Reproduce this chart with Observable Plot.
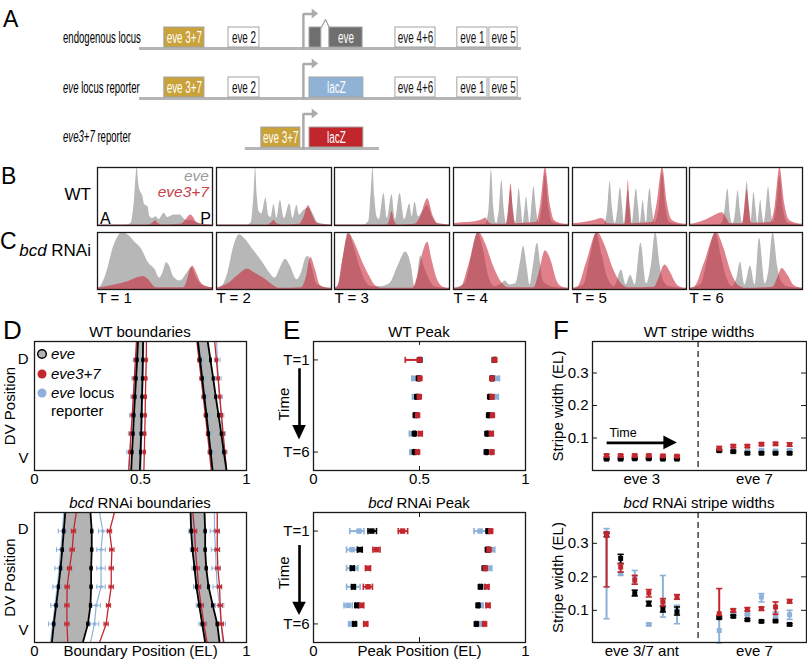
<!DOCTYPE html>
<html><head><meta charset="utf-8">
<script src="https://cdn.jsdelivr.net/npm/d3@7"></script>
<script src="https://cdn.jsdelivr.net/npm/@observablehq/plot@0.6"></script>
<style>
body{margin:0;background:#fff;}
#fig{position:relative;width:807px;height:662px;overflow:hidden;background:#fff;}
</style></head>
<body><div id="fig"></div>
<script>
// ================= DATA =================
// ---- Panel A: locus diagram (positions in locus units 0..100) ----
const aLineStart = [0, 0, 27.7];
const aLineEnd   = [100, 100, 62.8];
const aBoxRow   = [0,0,0,0,0,0,0, 1,1,1,1,1,1, 2,2];
const aBoxLabel = ["eve 3+7","eve 2","","eve","eve 4+6","eve 1","eve 5", "eve 3+7","eve 2","lacZ","eve 4+6","eve 1","eve 5", "eve 3+7","lacZ"];
const aBoxStart = [6.5,23.3,44.5,49.7,67.0,83.2,91.6, 6.5,23.3,44.5,67.0,83.2,91.6, 31.9,44.5];
const aBoxEnd   = [17.0,31.4,47.6,58.4,77.5,91.1,99.0, 17.0,31.4,58.6,77.5,91.1,99.0, 42.1,58.6];
const aBoxKind  = ["enh37","enh","gene","gene","enh","enh","enh", "enh37","enh","lacZblue","enh","enh","enh", "enh37","lacZred"];
const aTSS = 42.9, aArrowBase = 45.2, aArrowTip = 46.9, aIntron = [47.6, 48.7, 49.7];

// ---- Panels B/C: AP expression profiles, knots [AP position, normalized level] ----
const timeLabels = ["T = 1","T = 2","T = 3","T = 4","T = 5","T = 6"];
const wtEveProfiles = [
 [[0,0.01],[0.25,0.01],[0.29,0.03],[0.32,0.4],[0.345,1.0],[0.36,0.7],[0.375,0.58],[0.395,0.5],[0.41,0.36],[0.44,0.32],[0.456,0.15],[0.48,0.12],[0.51,0.15],[0.535,0.1],[0.58,0.21],[0.61,0.14],[0.67,0.18],[0.72,0.18],[0.75,0.12],[0.78,0.08],[0.82,0.09],[0.86,0.05],[0.92,0.02],[1,0.01]],
 [[0,0.01],[0.26,0.01],[0.3,0.04],[0.325,0.5],[0.34,1.0],[0.355,0.5],[0.37,0.24],[0.395,0.2],[0.43,0.47],[0.455,0.17],[0.475,0.14],[0.5,0.36],[0.525,0.12],[0.556,0.43],[0.59,0.12],[0.637,0.37],[0.665,0.12],[0.70,0.35],[0.72,0.18],[0.76,0.26],[0.8,0.3],[0.84,0.2],[0.88,0.05],[0.92,0.02],[1,0.01]],
 [[0,0.01],[0.26,0.01],[0.3,0.08],[0.32,0.6],[0.335,1.0],[0.35,0.5],[0.37,0.15],[0.39,0.1],[0.43,0.55],[0.46,0.12],[0.5,0.53],[0.53,0.1],[0.57,0.55],[0.61,0.1],[0.655,0.37],[0.675,0.15],[0.70,0.4],[0.73,0.15],[0.77,0.25],[0.81,0.35],[0.85,0.15],[0.9,0.03],[1,0.01]],
 [[0,0.01],[0.28,0.02],[0.31,0.3],[0.33,0.96],[0.35,0.3],[0.375,0.03],[0.4,0.3],[0.42,0.78],[0.44,0.3],[0.46,0.03],[0.48,0.3],[0.5,0.62],[0.52,0.3],[0.54,0.03],[0.555,0.3],[0.57,0.64],[0.59,0.3],[0.605,0.03],[0.62,0.25],[0.635,0.49],[0.65,0.25],[0.665,0.03],[0.68,0.3],[0.70,0.67],[0.72,0.3],[0.74,0.04],[0.77,0.3],[0.8,0.9],[0.83,0.3],[0.86,0.05],[0.92,0.02],[1,0.01]],
 [[0,0.01],[0.28,0.02],[0.31,0.3],[0.33,0.76],[0.35,0.3],[0.375,0.03],[0.4,0.3],[0.42,0.65],[0.44,0.3],[0.455,0.03],[0.47,0.3],[0.49,0.6],[0.51,0.3],[0.525,0.03],[0.54,0.3],[0.56,0.63],[0.58,0.3],[0.595,0.03],[0.605,0.2],[0.62,0.43],[0.635,0.2],[0.65,0.03],[0.66,0.3],[0.68,0.64],[0.70,0.3],[0.72,0.04],[0.76,0.3],[0.79,0.9],[0.82,0.3],[0.85,0.05],[0.92,0.02],[1,0.01]],
 [[0,0.01],[0.28,0.02],[0.31,0.2],[0.34,0.63],[0.36,0.2],[0.385,0.03],[0.41,0.25],[0.43,0.6],[0.45,0.25],[0.47,0.03],[0.49,0.3],[0.51,0.75],[0.53,0.3],[0.545,0.05],[0.555,0.25],[0.57,0.57],[0.59,0.25],[0.605,0.03],[0.615,0.2],[0.63,0.43],[0.645,0.2],[0.66,0.03],[0.68,0.3],[0.70,0.66],[0.72,0.3],[0.74,0.05],[0.77,0.3],[0.8,0.85],[0.83,0.3],[0.87,0.04],[0.93,0.02],[1,0.01]]
];
const wtE37Profiles = [
 [[0,0.01],[0.44,0.01],[0.48,0.04],[0.505,0.08],[0.53,0.03],[0.56,0.01],[0.72,0.02],[0.76,0.07],[0.79,0.15],[0.81,0.18],[0.835,0.14],[0.86,0.06],[0.9,0.02],[1,0.01]],
 [[0,0.01],[0.45,0.01],[0.48,0.05],[0.5,0.09],[0.525,0.03],[0.56,0.01],[0.72,0.02],[0.76,0.14],[0.8,0.34],[0.84,0.16],[0.88,0.03],[1,0.01]],
 [[0,0.01],[0.46,0.01],[0.48,0.08],[0.5,0.24],[0.52,0.08],[0.545,0.01],[0.7,0.02],[0.75,0.15],[0.81,0.46],[0.86,0.15],[0.9,0.03],[1,0.01]],
 [[0,0.03],[0.1,0.05],[0.2,0.07],[0.25,0.1],[0.28,0.13],[0.31,0.05],[0.34,0.02],[0.46,0.02],[0.48,0.25],[0.5,0.72],[0.52,0.25],[0.54,0.03],[0.72,0.05],[0.76,0.38],[0.8,1.0],[0.84,0.38],[0.88,0.08],[0.94,0.03],[1,0.02]],
 [[0,0.03],[0.1,0.05],[0.2,0.09],[0.25,0.12],[0.28,0.1],[0.31,0.03],[0.46,0.02],[0.475,0.3],[0.49,0.78],[0.505,0.3],[0.52,0.03],[0.7,0.05],[0.74,0.35],[0.79,1.0],[0.83,0.4],[0.87,0.1],[0.93,0.04],[1,0.02]],
 [[0,0.02],[0.06,0.04],[0.15,0.1],[0.22,0.17],[0.29,0.22],[0.33,0.12],[0.36,0.03],[0.47,0.03],[0.49,0.3],[0.51,0.61],[0.53,0.3],[0.55,0.04],[0.72,0.05],[0.76,0.35],[0.8,1.0],[0.84,0.4],[0.88,0.1],[0.94,0.04],[1,0.02]]
];
const bcdEveProfiles = [
 [[0,0.02],[0.03,0.06],[0.08,0.3],[0.14,0.75],[0.19,0.96],[0.21,1.0],[0.27,0.95],[0.33,0.82],[0.38,0.72],[0.44,0.48],[0.5,0.35],[0.54,0.2],[0.57,0.3],[0.6,0.47],[0.63,0.4],[0.66,0.23],[0.72,0.15],[0.78,0.29],[0.82,0.38],[0.86,0.2],[0.91,0.08],[0.95,0.05],[1,0.03]],
 [[0,0.02],[0.05,0.06],[0.1,0.3],[0.15,0.75],[0.2,0.96],[0.25,0.88],[0.31,0.72],[0.4,0.48],[0.46,0.3],[0.51,0.2],[0.56,0.4],[0.6,0.53],[0.64,0.42],[0.7,0.17],[0.74,0.3],[0.78,0.56],[0.8,0.58],[0.83,0.4],[0.87,0.1],[0.93,0.04],[1,0.02]],
 [[0,0.02],[0.04,0.1],[0.08,0.6],[0.12,1.0],[0.17,0.75],[0.22,0.4],[0.27,0.15],[0.32,0.05],[0.4,0.05],[0.48,0.1],[0.55,0.4],[0.62,0.66],[0.67,0.4],[0.7,0.05],[0.72,0.2],[0.75,0.59],[0.78,0.4],[0.82,0.2],[0.87,0.05],[1,0.02]],
 [[0,0.02],[0.1,0.1],[0.16,0.6],[0.21,1.0],[0.26,0.7],[0.31,0.2],[0.36,0.05],[0.42,0.1],[0.45,0.15],[0.49,0.08],[0.54,0.1],[0.58,0.45],[0.61,0.76],[0.64,0.4],[0.665,0.08],[0.69,0.35],[0.73,0.81],[0.76,0.4],[0.78,0.15],[0.85,0.05],[1,0.02]],
 [[0,0.02],[0.1,0.08],[0.16,0.6],[0.21,1.0],[0.26,0.6],[0.31,0.2],[0.37,0.05],[0.43,0.34],[0.47,0.08],[0.51,0.25],[0.55,0.08],[0.6,0.81],[0.65,0.1],[0.69,0.4],[0.73,1.0],[0.77,0.4],[0.8,0.15],[0.85,0.05],[1,0.02]],
 [[0,0.02],[0.1,0.08],[0.17,0.6],[0.23,1.0],[0.28,0.6],[0.33,0.2],[0.38,0.05],[0.42,0.2],[0.45,0.48],[0.49,0.08],[0.54,0.41],[0.58,0.08],[0.62,0.9],[0.67,0.1],[0.7,0.3],[0.74,1.0],[0.78,0.4],[0.82,0.12],[0.88,0.04],[1,0.02]]
];
const bcdE37Profiles = [
 [[0,0.02],[0.05,0.04],[0.15,0.08],[0.27,0.14],[0.34,0.2],[0.4,0.23],[0.44,0.18],[0.48,0.08],[0.51,0.03],[0.75,0.03],[0.78,0.15],[0.81,0.37],[0.83,0.41],[0.86,0.3],[0.9,0.12],[0.95,0.05],[1,0.03]],
 [[0,0.02],[0.1,0.1],[0.19,0.25],[0.27,0.36],[0.34,0.28],[0.43,0.17],[0.51,0.05],[0.55,0.02],[0.74,0.03],[0.78,0.2],[0.82,0.56],[0.86,0.35],[0.9,0.08],[0.95,0.03],[1,0.02]],
 [[0,0.02],[0.03,0.05],[0.07,0.5],[0.125,0.98],[0.18,0.8],[0.24,0.5],[0.3,0.25],[0.36,0.06],[0.42,0.02],[0.68,0.02],[0.72,0.2],[0.77,0.65],[0.81,0.83],[0.85,0.5],[0.9,0.15],[0.96,0.03],[1,0.02]],
 [[0,0.02],[0.07,0.05],[0.13,0.4],[0.22,1.0],[0.28,0.8],[0.35,0.4],[0.42,0.12],[0.48,0.03],[0.7,0.03],[0.74,0.25],[0.8,0.68],[0.85,0.5],[0.9,0.15],[0.95,0.04],[1,0.02]],
 [[0,0.02],[0.05,0.05],[0.12,0.45],[0.22,1.0],[0.28,0.8],[0.36,0.35],[0.44,0.08],[0.5,0.03],[0.72,0.04],[0.76,0.2],[0.81,0.43],[0.86,0.3],[0.91,0.1],[0.96,0.03],[1,0.02]],
 [[0,0.02],[0.05,0.05],[0.13,0.45],[0.24,1.0],[0.3,0.75],[0.37,0.3],[0.44,0.06],[0.5,0.02],[0.74,0.04],[0.78,0.2],[0.82,0.37],[0.87,0.25],[0.93,0.06],[1,0.02]]
];

// ---- Panel D: boundary positions (EL) at DV positions 0 (D) .. 7 (V) ----
// rows: stripe 3 anterior, stripe 3 posterior, stripe 7 anterior, stripe 7 posterior
const dvPos = [0,1,2,3,4,5,6,7];
const wtEveBounds = [
 [0.488,0.484,0.479,0.474,0.469,0.465,0.460,0.456],
 [0.512,0.511,0.509,0.507,0.505,0.503,0.500,0.497],
 [0.771,0.781,0.791,0.801,0.811,0.821,0.831,0.840],
 [0.817,0.830,0.843,0.855,0.868,0.881,0.893,0.906]];
const wtE37Bounds = [
 [0.481,0.476,0.471,0.466,0.461,0.455,0.450,0.445],
 [0.528,0.527,0.525,0.523,0.522,0.520,0.518,0.516],
 [0.766,0.776,0.786,0.796,0.806,0.816,0.825,0.834],
 [0.850,0.858,0.866,0.874,0.882,0.890,0.898,0.906]];
const wtRepBounds = [
 [0.484,0.479,0.473,0.468,0.462,0.456,0.449,0.443],
 [0.515,0.514,0.512,0.510,0.508,0.506,0.504,0.502],
 [0.775,0.785,0.795,0.804,0.814,0.824,0.833,0.843],
 [0.859,0.862,0.867,0.873,0.880,0.887,0.895,0.902]];
const wtBoundErr = [0.004, 0.005, 0.013]; // eve, eve3+7, reporter
const bcdEveBounds = [
 [0.145,0.138,0.131,0.123,0.113,0.102,0.091,0.082],
 [0.264,0.270,0.270,0.267,0.267,0.264,0.252,0.228],
 [0.736,0.739,0.745,0.755,0.764,0.777,0.791,0.805],
 [0.802,0.805,0.805,0.810,0.821,0.841,0.862,0.873]];
const bcdE37Bounds = [
 [0.197,0.184,0.178,0.165,0.154,0.153,0.153,0.157],
 [0.377,0.354,0.365,0.362,0.362,0.349,0.338,0.307],
 [0.747,0.755,0.759,0.767,0.774,0.786,0.799,0.814],
 [0.862,0.862,0.862,0.865,0.873,0.876,0.881,0.893]];
const bcdRepBounds = [
 [0.138,0.132,0.124,0.116,0.107,0.097,0.086,0.075],
 [0.307,0.322,0.314,0.314,0.314,0.291,0.283,0.264],
 [0.742,0.748,0.755,0.763,0.770,0.783,0.796,0.810],
 [0.849,0.849,0.854,0.857,0.862,0.873,0.881,0.888]];
const bcdBoundErr = [0.005, 0.01, 0.02];

// ---- Panel E: peak positions [value, lo, hi]; stripe 3 T1..T6 then stripe 7 T1..T6 ----
const wtPeakEve = [[0.502,0.498,0.506],[0.495,0.491,0.499],[0.487,0.483,0.491],[0.480,0.476,0.484],[0.476,0.472,0.480],[0.476,0.472,0.480],
 [0.853,0.849,0.857],[0.842,0.838,0.846],[0.831,0.827,0.835],[0.826,0.822,0.830],[0.818,0.814,0.822],[0.815,0.811,0.819]];
const wtPeakE37 = [[0.499,0.433,0.505],[0.502,0.497,0.507],[0.499,0.494,0.504],[0.491,0.486,0.496],[0.504,0.496,0.512],[0.491,0.486,0.496],
 [0.855,0.850,0.860],[0.842,0.837,0.847],[0.842,0.837,0.847],[0.844,0.839,0.849],[0.839,0.832,0.846],[0.842,0.837,0.847]];
const wtPeakRep = [[0.500,0.492,0.508],[0.476,0.464,0.488],[0.476,0.468,0.484],[0.482,0.474,0.490],[0.464,0.452,0.476],[0.464,0.456,0.472],
 [0.852,0.844,0.860],[0.867,0.857,0.877],[0.863,0.855,0.871],[0.835,0.827,0.843],[0.828,0.820,0.836],[0.830,0.822,0.838]];
const bcdPeakEve = [[0.275,0.257,0.297],[0.218,0.207,0.23],[0.183,0.175,0.191],[0.188,0.181,0.195],[0.204,0.198,0.21],[0.194,0.188,0.2],
 [0.823,0.818,0.828],[0.82,0.815,0.825],[0.805,0.8,0.81],[0.787,0.782,0.792],[0.776,0.771,0.781],[0.768,0.763,0.773]];
const bcdPeakE37 = [[0.42,0.4,0.444],[0.297,0.28,0.314],[0.257,0.245,0.269],[0.257,0.235,0.278],[0.227,0.218,0.236],[0.246,0.237,0.255],
 [0.836,0.83,0.842],[0.828,0.822,0.834],[0.81,0.804,0.816],[0.818,0.809,0.827],[0.823,0.814,0.832],[0.807,0.801,0.813]];
const bcdPeakRep = [[0.215,0.171,0.238],[0.182,0.156,0.207],[0.19,0.156,0.209],[0.19,0.156,0.22],[0.163,0.144,0.183],[0.175,0.167,0.183],
 [0.786,0.757,0.815],[0.842,0.829,0.855],[0.831,0.822,0.84],[0.8,0.792,0.808],[0.791,0.783,0.799],[0.791,0.783,0.799]];
const peakTimeTicks = [1, 6];

// ---- Panel F: stripe widths [value, lo, hi] (EL); 6 time points per stripe ----
const fSlots = [1,2,3,4,5,6, 9,10,11,12,13,14];
const fDivider = [7.5];
const wtGroups = ["eve 3","eve 7"], bcdGroups = ["eve 3/7 ant","eve 7"], fGroupCenters = [3.5, 11.5];
const wtWidthEve = [[0.035,0.033,0.037],[0.035,0.033,0.037],[0.036,0.034,0.038],[0.036,0.034,0.038],[0.035,0.033,0.037],[0.035,0.033,0.037],
 [0.061,0.058,0.064],[0.058,0.055,0.061],[0.053,0.05,0.056],[0.053,0.05,0.056],[0.053,0.05,0.056],[0.053,0.05,0.056]];
const wtWidthE37 = [[0.046,0.042,0.05],[0.046,0.043,0.049],[0.046,0.043,0.049],[0.046,0.043,0.049],[0.045,0.042,0.048],[0.044,0.041,0.047],
 [0.068,0.062,0.074],[0.075,0.071,0.079],[0.075,0.071,0.079],[0.081,0.077,0.085],[0.082,0.078,0.086],[0.08,0.075,0.085]];
const wtWidthRep = [[0.04,0.038,0.042],[0.04,0.038,0.042],[0.038,0.036,0.04],[0.04,0.038,0.042],[0.039,0.037,0.041],[0.038,0.036,0.04],
 [0.064,0.061,0.067],[0.062,0.059,0.065],[0.058,0.055,0.061],[0.062,0.059,0.065],[0.06,0.057,0.063],[0.062,0.059,0.065]];
const bcdWidthEve = [[0.325,0.32,0.33],[0.255,0.24,0.267],[0.15,0.143,0.16],[0.12,0.113,0.127],[0.103,0.095,0.112],[0.095,0.086,0.11],
 [0.078,0.075,0.081],[0.082,0.079,0.085],[0.072,0.069,0.075],[0.067,0.064,0.07],[0.068,0.065,0.071],[0.058,0.055,0.061]];
const bcdWidthE37 = [[0.324,0.17,0.334],[0.229,0.214,0.239],[0.19,0.178,0.204],[0.152,0.14,0.162],[0.125,0.113,0.135],[0.14,0.133,0.147],
 [0.09,0.085,0.165],[0.1,0.095,0.104],[0.103,0.098,0.108],[0.105,0.1,0.11],[0.11,0.088,0.125],[0.127,0.122,0.132]];
const bcdWidthRep = [[0.33,0.075,0.344],[0.209,0.205,0.214],[0.2,0.178,0.219],[0.058,0.055,0.061],[0.125,0.08,0.204],[0.1,0.06,0.115],
 [0.04,0.003,0.075],[0.09,0.087,0.093],[0.088,0.085,0.091],[0.14,0.125,0.15],[0.087,0.078,0.095],[0.087,0.073,0.1]];

// ================= STYLE / LAYOUT =================
const FONT = '"Liberation Sans", Arial, Helvetica, sans-serif';
const RED = "#c1272d", BLUE = "#8eb1d9", BAND = "#b3b3b3", PGRAY = "#b7b7b7", PRED = "#c92535";
const CONDENSE = 0.6;
const fig = document.getElementById("fig");
function place(svg, left, top) {
  svg.style.position = "absolute"; svg.style.left = left + "px"; svg.style.top = top + "px";
  fig.appendChild(svg); return svg;
}
const baseStyle = {fontFamily: FONT, fontSize: "15px", background: "transparent", overflow: "visible", color: "#000"};

// ================= PANEL A =================
{
  const boxes = aBoxRow.map((r, i) => ({r, label: aBoxLabel[i], x1: aBoxStart[i], x2: aBoxEnd[i], kind: aBoxKind[i]}));
  const kindFill = {enh37: "#c9a23a", enh: "#ffffff", gene: "#6f6f6f", lacZblue: "#8fb2d6", lacZred: "#c0262c"};
  const lines = aLineStart.map((s, r) => ({r, x1: s, x2: aLineEnd[r]}));
  const rows = [0, 1, 2];
  const promoter = rows.flatMap(r => [{r, x: aTSS, y: r}, {r, x: aTSS, y: r - 0.69}, {r, x: aArrowBase + 0.3, y: r - 0.69}]);
  const heads = rows.flatMap(r => [{r, x: aArrowBase, y1: r - 0.79, y2: r - 0.59}, {r, x: aArrowTip, y1: r - 0.69, y2: r - 0.69}]);
  const caret = [{x: aIntron[0], y: -0.42}, {x: aIntron[1], y: -0.58}, {x: aIntron[2], y: -0.42}];
  const pA = Plot.plot({
    width: 807, height: 160, margin: 0, style: baseStyle,
    x: {domain: [0, 100], range: [139, 521], axis: null},
    y: {domain: [-0.96, 2.24], range: [0, 160], axis: null},
    color: {type: "identity"},
    marks: [
      Plot.ruleY(lines, {y: "r", x1: "x1", x2: "x2", stroke: "#b5b5b5", strokeWidth: 3}),
      Plot.line(promoter, {x: "x", y: "y", z: "r", stroke: "#ababab", strokeWidth: 2.5, strokeLinejoin: "miter"}),
      Plot.areaY(heads, {x: "x", y1: "y1", y2: "y2", z: "r", fill: "#ababab"}),
      Plot.line(caret, {x: "x", y: "y", stroke: "#a0a0a0", strokeWidth: 1.2}),
      Plot.rect(boxes, {x1: "x1", x2: "x2", y1: d => d.r - 0.42, y2: d => d.r - 0.02, fill: d => kindFill[d.kind], stroke: "#a3a3a3", strokeWidth: 1}),
      Plot.text(boxes.filter(d => d.label), {x: d => (d.x1 + d.x2) / 2, y: d => d.r - 0.21, text: "label", fill: d => d.kind === "enh" ? "#111111" : "#ffffff", fontSize: 16.5})
    ]
  });
  place(pA, 0, 0);
  // condensed lettering (like the original's narrow face): squeeze each label horizontally about its centre
  pA.querySelectorAll("text").forEach(t => {
    const tr = t.getAttribute("transform");
    if (tr) t.setAttribute("transform", tr + ` scale(${CONDENSE},1)`);
    else {
      const x = +t.getAttribute("x") || 0, y = +t.getAttribute("y") || 0;
      t.removeAttribute("x"); t.removeAttribute("y");
      t.setAttribute("transform", `translate(${x},${y}) scale(${CONDENSE},1)`);
    }
  });
}

// ================= PANELS B / C =================
const profLefts = [97, 216, 334, 453, 572, 689];
const profWidths = [115, 115, 115, 115, 114, 113];
function profilePlot(gray, red, w, h, label) {
  return Plot.plot({
    width: w, height: h + (label ? 18 : 0), margin: 0, marginBottom: label ? 18 : 0, style: baseStyle,
    x: {domain: [0, 1], axis: null}, y: {domain: [0, 1], axis: null},
    marks: [
      Plot.areaY(gray, {x: d => d[0], y: d => d[1], fill: PGRAY, curve: "monotone-x", clip: true}),
      Plot.areaY(red, {x: d => d[0], y: d => d[1], fill: PRED, fillOpacity: 0.58, curve: "monotone-x", clip: true}),
      Plot.frame({stroke: "#1a1a1a", strokeWidth: 1.3}),
      label ? Plot.text([label], {text: d => d, frameAnchor: "bottom-left", textAnchor: "start", lineAnchor: "top", dy: 3, fontSize: 15}) : null
    ]
  });
}
for (let t = 0; t < 6; t++) {
  place(profilePlot(wtEveProfiles[t], wtE37Profiles[t], profWidths[t], 58, null), profLefts[t], 167);
  place(profilePlot(bcdEveProfiles[t], bcdE37Profiles[t], profWidths[t], 57, timeLabels[t]), profLefts[t], 232);
}

// ================= PANEL D =================
function boundaryPlot(eveB, e37B, repB, errs, height, marginBottom, bottomLabel, xTicks, dvY) {
  const series = [
    {key: "rep", B: repB, color: BLUE, err: errs[2], sw: 1.2},
    {key: "e37", B: e37B, color: RED, err: errs[1], sw: 1.3},
    {key: "eve", B: eveB, color: "#000", err: errs[0], sw: 1.8}
  ];
  const band = [0, 2].flatMap(b => dvPos.map((dv, i) => ({stripe: b, dv, x1: eveB[b][i], x2: eveB[b + 1][i]})));
  const marks = [Plot.areaX(band, {y: "dv", x1: "x1", x2: "x2", z: "stripe", fill: BAND, clip: true})];
  for (const s of series) {
    const rows = s.B.flatMap((arr, b) => arr.map((x, i) => ({k: b, x, dv: dvPos[i], err: s.err})));
    const pts = rows.filter(d => d.dv > 0 && d.dv < 7);
    marks.push(
      Plot.line(rows, {x: "x", y: "dv", z: "k", stroke: s.color, strokeWidth: s.sw, clip: true}),
      Plot.ruleY(pts, {y: "dv", x1: d => d.x - d.err, x2: d => d.x + d.err, stroke: s.color, strokeWidth: 1}),
      Plot.link(pts, {x1: d => d.x - d.err, x2: d => d.x - d.err, y1: d => d.dv - 0.13, y2: d => d.dv + 0.13, stroke: s.color, strokeWidth: 1}),
      Plot.link(pts, {x1: d => d.x + d.err, x2: d => d.x + d.err, y1: d => d.dv - 0.13, y2: d => d.dv + 0.13, stroke: s.color, strokeWidth: 1}),
      Plot.dot(pts, {x: "x", y: "dv", symbol: "square", r: 1.7, fill: s.color})
    );
  }
  marks.push(
    Plot.frame({stroke: "#1a1a1a", strokeWidth: 1.3}),
    Plot.text(xTicks, {x: d => d, text: d => String(d), frameAnchor: "bottom", lineAnchor: "top", dy: 3, fontSize: 15}),
    Plot.text(["D"], {text: d => d, frameAnchor: "top-left", textAnchor: "end", dx: -6, dy: dvY[0], fontSize: 15}),
    Plot.text(["V"], {text: d => d, frameAnchor: "bottom-left", textAnchor: "end", dx: -6, dy: dvY[1], fontSize: 15}),
    Plot.text(["DV Position"], {text: d => d, frameAnchor: "left", textAnchor: "middle", lineAnchor: "middle", rotate: -90, dx: -24, fontSize: 15})
  );
  if (bottomLabel) marks.push(Plot.text([bottomLabel], {text: d => d, frameAnchor: "bottom", lineAnchor: "top", dy: 3, fontSize: 15}));
  return Plot.plot({
    width: 260, height, marginLeft: 34, marginRight: 14, marginTop: 21, marginBottom, style: baseStyle,
    x: {domain: [0, 1], axis: null}, y: {domain: [0, 7], reverse: true, axis: null},
    marks
  });
}
place(boundaryPlot(wtEveBounds, wtE37Bounds, wtRepBounds, wtBoundErr, 175, 25, null, [0, 0.5, 1], [12, -8]), 0, 320);
place(boundaryPlot(bcdEveBounds, bcdE37Bounds, bcdRepBounds, bcdBoundErr, 171, 20, "Boundary Position (EL)", [0, 1], [11, -8]), 0, 491);

// ================= PANEL E =================
function peakPlot(eveP, e37P, repP, height, marginBottom, bottomLabel, xTicks, arrow, timeY) {
  const toRows = arr => arr.map((d, i) => ({t: (i % 6) + 1, v: d[0], lo: d[1], hi: d[2]}));
  const series = [{P: repP, color: BLUE}, {P: eveP, color: "#000"}, {P: e37P, color: RED}];
  const marks = [];
  for (const s of series) {
    const rows = toRows(s.P);
    marks.push(
      Plot.ruleY(rows, {y: "t", x1: "lo", x2: "hi", stroke: s.color, strokeWidth: 2}),
      Plot.link(rows, {x1: "lo", x2: "lo", y1: d => d.t - 0.17, y2: d => d.t + 0.17, stroke: s.color, strokeWidth: 1.6}),
      Plot.link(rows, {x1: "hi", x2: "hi", y1: d => d.t - 0.17, y2: d => d.t + 0.17, stroke: s.color, strokeWidth: 1.6}),
      Plot.dot(rows, {x: "v", y: "t", symbol: "square", r: 3.1, fill: s.color})
    );
  }
  const ax = -0.066;
  marks.push(
    Plot.frame({stroke: "#1a1a1a", strokeWidth: 1.3}),
    Plot.tickY(peakTimeTicks, {y: d => d, insetRight: 207, stroke: "#1a1a1a"}),
    Plot.tickX([0.5], {x: d => d, insetTop: 125, stroke: "#1a1a1a"}),
    Plot.tickX([0.5], {x: d => d, insetBottom: 125, stroke: "#1a1a1a"}),
    Plot.text(peakTimeTicks, {y: d => d, text: d => "T=" + d, frameAnchor: "left", textAnchor: "end", dx: -4, fontSize: 15}),
    Plot.text(xTicks, {x: d => d, text: d => String(d), frameAnchor: "bottom", lineAnchor: "top", dy: 3, fontSize: 15}),
    Plot.ruleX([ax], {x: d => d, y1: arrow[0], y2: arrow[1] + 0.1, stroke: "#000", strokeWidth: 2.6}),
    Plot.areaX([{y: arrow[1], a: ax - 0.032, b: ax + 0.032}, {y: arrow[2], a: ax, b: ax}], {y: "y", x1: "a", x2: "b", fill: "#000"}),
    Plot.text(["Time"], {text: d => d, x: -0.137, y: timeY, rotate: -90, textAnchor: "middle", fontSize: 15})
  );
  if (bottomLabel) marks.push(Plot.text([bottomLabel], {text: d => d, frameAnchor: "bottom", lineAnchor: "top", dy: 3, fontSize: 15}));
  return Plot.plot({
    width: 260, height, marginLeft: 33, marginRight: 15, marginTop: 21, marginBottom, style: baseStyle,
    x: {domain: [0, 1], axis: null}, y: {domain: [0, 7], reverse: true, axis: null},
    marks
  });
}
place(peakPlot(wtPeakEve, wtPeakE37, wtPeakRep, 175, 25, null, [0, 0.5, 1], [1.48, 4.56, 5.35], 3.4), 280, 320);
place(peakPlot(bcdPeakEve, bcdPeakE37, bcdPeakRep, 171, 20, "Peak Position (EL)", [0, 1], [1.78, 4.83, 5.55], 3.25), 280, 491);

// ================= PANEL F =================
function widthPlot(eveW, e37W, repW, height, marginBottom, yDomain, groups, timeArrow) {
  const toRows = arr => arr.map((d, i) => ({s: fSlots[i], v: d[0], lo: d[1], hi: d[2]}));
  const series = [{W: repW, color: BLUE}, {W: eveW, color: "#000"}, {W: e37W, color: RED}];
  const marks = [Plot.ruleX(fDivider, {x: d => d, stroke: "#333", strokeWidth: 1.4, strokeDasharray: "6,4"})];
  for (const s of series) {
    const rows = toRows(s.W);
    marks.push(
      Plot.ruleX(rows, {x: "s", y1: "lo", y2: "hi", stroke: s.color, strokeWidth: 2}),
      Plot.link(rows, {x1: d => d.s - 0.22, x2: d => d.s + 0.22, y1: "lo", y2: "lo", stroke: s.color, strokeWidth: 1.6}),
      Plot.link(rows, {x1: d => d.s - 0.22, x2: d => d.s + 0.22, y1: "hi", y2: "hi", stroke: s.color, strokeWidth: 1.6}),
      Plot.dot(rows, {x: "s", y: "v", symbol: "square", r: 2.8, fill: s.color})
    );
  }
  const yt = [0.1, 0.2, 0.3];
  marks.push(
    Plot.frame({stroke: "#1a1a1a", strokeWidth: 1.3}),
    Plot.tickY(yt, {y: d => d, insetRight: 209, stroke: "#1a1a1a"}),
    Plot.tickY(yt, {y: d => d, insetLeft: 209, stroke: "#1a1a1a"}),
    Plot.text(yt, {y: d => d, text: d => String(d), frameAnchor: "left", textAnchor: "end", dx: -4, fontSize: 15}),
    Plot.text(groups, {x: (d, i) => fGroupCenters[i], text: d => d, frameAnchor: "bottom", lineAnchor: "top", dy: 3, fontSize: 15}),
    Plot.text(["Stripe width (EL)"], {text: d => d, frameAnchor: "left", textAnchor: "middle", lineAnchor: "middle", rotate: -90, dx: -34, fontSize: 15})
  );
  if (timeArrow) {
    const [x0, xb, xt, yy] = timeArrow;
    marks.push(
      Plot.ruleY([yy], {y: d => d, x1: x0, x2: xb + 0.1, stroke: "#000", strokeWidth: 2.8}),
      Plot.areaY([{x: xb, a: yy - 0.021, b: yy + 0.021}, {x: xt, a: yy, b: yy}], {x: "x", y1: "a", y2: "b", fill: "#000"}),
      Plot.text(["Time"], {text: d => d, x: 1.2, y: yy + 0.031, textAnchor: "start", fontSize: 12.5})
    );
  }
  return Plot.plot({
    width: 267, height, marginLeft: 52, marginRight: 1, marginTop: 21, marginBottom, style: baseStyle,
    x: {domain: [0, 15.2], axis: null}, y: {domain: yDomain, axis: null},
    marks
  });
}
place(widthPlot(wtWidthEve, wtWidthE37, wtWidthRep, 175, 25, [0, 0.397], wtGroups, [1.04, 5.07, 6.03, 0.085]), 540, 320);
place(widthPlot(bcdWidthEve, bcdWidthE37, bcdWidthRep, 171, 20, [0.004, 0.392], bcdGroups, null), 540, 491);

// ================= OVERLAY TEXT (letters, row labels, titles, legend) =================
const ov = d3.create("svg").attr("width", 807).attr("height", 662)
  .attr("style", `position:absolute;left:0;top:0;overflow:visible;font-family:${FONT}`);
function txt(x, y, parts, {size = 15, anchor = "start", fill = "#000", squeeze = null} = {}) {
  const t = ov.append("text").attr("font-size", size).attr("text-anchor", anchor).attr("fill", fill);
  if (squeeze) t.attr("transform", `translate(${x},${y}) scale(${squeeze},1)`);
  else t.attr("x", x).attr("y", y);
  for (const p of parts) {
    if (typeof p === "string") t.append("tspan").text(p);
    else t.append("tspan").attr("font-style", "italic").text(p.i);
  }
  return t;
}
// panel letters
txt(3, 27, ["A"], {size: 23}); txt(1, 184, ["B"], {size: 23}); txt(0, 249, ["C"], {size: 23});
txt(3, 339, ["D"], {size: 26}); txt(283, 339, ["E"], {size: 26}); txt(553, 339, ["F"], {size: 26});
// panel A row labels (condensed face)
txt(63, 43, ["endogenous locus"], {size: 16, squeeze: CONDENSE});
txt(63, 93, [{i: "eve"}, " locus reporter"], {size: 16, squeeze: CONDENSE});
txt(63, 142, [{i: "eve3+7"}, " reporter"], {size: 16, squeeze: CONDENSE});
// B/C row labels & key
txt(91, 200, ["WT"], {size: 17, anchor: "end"});
txt(91, 256, [{i: "bcd"}, " RNAi"], {size: 17, anchor: "end"});
txt(209, 181, [{i: "eve"}], {size: 15.5, anchor: "end", fill: "#9b9b9b"});
txt(209, 197, [{i: "eve3+7"}], {size: 15.5, anchor: "end", fill: "#c8404a"});
txt(100, 224, ["A"], {size: 16}); txt(211, 224, ["P"], {size: 16, anchor: "end"});
// titles
txt(140, 337, ["WT boundaries"], {anchor: "middle"});
txt(140, 508, [{i: "bcd"}, " RNAi boundaries"], {anchor: "middle"});
txt(419, 337, ["WT Peak"], {anchor: "middle"});
txt(419, 508, [{i: "bcd"}, " RNAi Peak"], {anchor: "middle"});
txt(699, 337, ["WT stripe widths"], {anchor: "middle"});
txt(699, 508, [{i: "bcd"}, " RNAi stripe widths"], {anchor: "middle"});
// legend in D
ov.append("circle").attr("cx", 42).attr("cy", 354).attr("r", 4.3).attr("fill", BAND).attr("stroke", "#000").attr("stroke-width", 1.4);
ov.append("circle").attr("cx", 42).attr("cy", 374).attr("r", 4.5).attr("fill", RED);
ov.append("circle").attr("cx", 42).attr("cy", 393).attr("r", 4.5).attr("fill", BLUE);
txt(51, 359, [{i: "eve"}]);
txt(51, 379, [{i: "eve3+7"}]);
txt(51, 398, [{i: "eve"}, " locus"]);
txt(51, 416, ["reporter"]);
fig.appendChild(ov.node());
</script>
</body></html>
